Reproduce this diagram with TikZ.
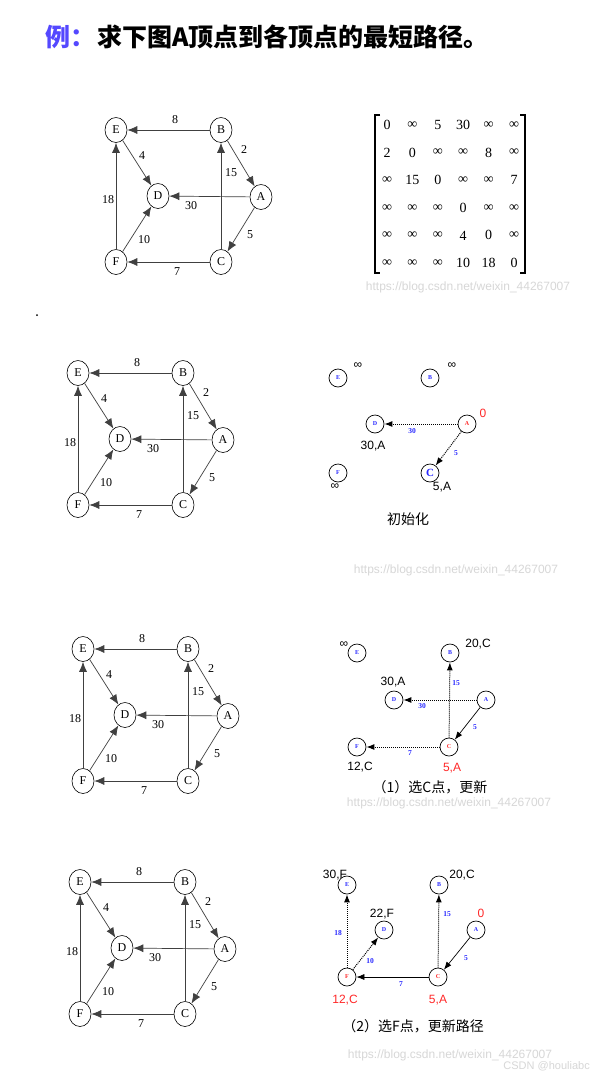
\documentclass[tikz,border=0pt]{standalone}
\usepackage{fontspec}
\setmainfont{Liberation Serif}
\newfontfamily\cjk{Noto Sans CJK SC}
\newfontfamily\lsans{Liberation Sans}
\usetikzlibrary{arrows.meta,shapes.geometric}
\definecolor{ttlblue}{RGB}{84,72,255}
\definecolor{tblue}{RGB}{40,40,255}
\definecolor{tred}{RGB}{255,40,40}
\definecolor{wm}{RGB}{215,215,215}
\tikzset{
  gnode/.style={ellipse,draw,line width=0.6pt,minimum width=22pt,minimum height=25pt,inner sep=0pt,font=\fontsize{12}{12}\selectfont},
  gedge/.style={draw=black!75,line width=0.7pt,-{Latex[length=10pt,width=8pt]}},
  glabel/.style={inner sep=0pt,font=\fontsize{12}{12}\selectfont},
  rnode/.style={circle,draw,line width=0.7pt,minimum size=18pt,inner sep=0pt,text=tblue,font=\bfseries\fontsize{6}{6}\selectfont},
  redge/.style={line width=0.7pt,-{Latex[length=8pt,width=6pt]}},
  rdot/.style={redge,dash pattern=on 1pt off 1pt,line width=1pt},
  rlab/.style={inner sep=0pt,text=tblue,font=\bfseries\fontsize{7.5}{7.5}\selectfont},
  dist/.style={inner sep=0pt,font=\lsans\fontsize{12}{12}\selectfont},
  capt/.style={inner sep=0pt,font=\cjk\fontsize{14}{14}\selectfont},
  wmark/.style={inner sep=0pt,text=wm,font=\lsans\fontsize{12}{12}\selectfont},
}
\newcommand\cubegraph[3]{%
\begin{scope}[shift={(#2,#3)}]
\node[gnode] (#1E) at (0,0) {E};
\node[gnode] (#1B) at (105,0) {B};
\node[gnode] (#1D) at (42,66) {D};
\node[gnode] (#1A) at (145,67) {A};
\node[gnode] (#1F) at (0,132) {F};
\node[gnode] (#1C) at (105,132) {C};
\draw[gedge] (#1B) -- (#1E);
\draw[gedge] (#1B) -- (#1A);
\draw[gedge] (#1C) -- (#1B);
\draw[gedge] (#1A) -- (#1D);
\draw[gedge] (#1A) -- (#1C);
\draw[gedge] (#1E) -- (#1D);
\draw[gedge] (#1F) -- (#1E);
\draw[gedge] (#1F) -- (#1D);
\draw[gedge] (#1C) -- (#1F);
\node[glabel] (#1w8) at (59,-10) {8};
\node[glabel] (#1w2) at (128,20) {2};
\node[glabel] (#1w15) at (115,43) {15};
\node[glabel] (#1w4) at (26,26) {4};
\node[glabel] (#1w18) at (-8,70) {18};
\node[glabel] (#1w30) at (75,76) {30};
\node[glabel] (#1w10) at (28,110) {10};
\node[glabel] (#1w5) at (134,105) {5};
\node[glabel] (#1w7) at (61,142) {7};
\end{scope}}
\begin{document}
\begin{tikzpicture}[x=1pt,y=-1pt]
\useasboundingbox (0,0) rectangle (600,1076);
\fill[white] (0,0) rectangle (600,1076);
% title
\node[anchor=west,inner sep=0pt,text=ttlblue,font=\cjk\bfseries\fontsize{25}{25}\selectfont] (t1) at (45,37) {例：};
\node[anchor=west,inner sep=0pt,font=\cjk\bfseries\fontsize{25}{25}\selectfont] (t2) at (97,37) {求下图A顶点到各顶点的最短路径。};
% graph 1 and matrix
\cubegraph{g1}{116}{130}
\draw[line width=1.1pt] (380,115) -- (375,115) -- (375,273) -- (380,273);
\draw[line width=1.1pt] (520,115) -- (525,115) -- (525,273) -- (520,273);
\foreach \row [count=\r] in {{0,∞,5,30,∞,∞},{2,0,∞,∞,8,∞},{∞,15,0,∞,∞,7},{∞,∞,∞,0,∞,∞},{∞,∞,∞,4,0,∞},{∞,∞,∞,10,18,0}}{
  \foreach \v [count=\c] in \row {
    \node[inner sep=0pt,font=\fontsize{14}{14}\selectfont] (m\r\c) at ({361.6+25.4*\c},{97.4+27.6*\r}) {\v};
  }
}
\node[wmark] (wm1) at (468,287) {https://blog.csdn.net/weixin\_44267007};
\fill (37,315) circle (1pt);
% graph 2 and init panel
\cubegraph{g2}{78}{373}
\node[rnode] (p2E) at (338,378) {E};
\node[rnode] (p2B) at (430,378) {B};
\node[rnode] (p2D) at (375,424) {D};
\node[rnode,text=tred] (p2A) at (467,424) {A};
\node[rnode] (p2F) at (338,473) {F};
\node[rnode,font=\bfseries\fontsize{11}{11}\selectfont] (p2C) at (430,473) {C};
\draw[rdot] (p2A) -- (p2D);
\draw[rdot] (p2A) -- (p2C);
\node[rlab] (p2l30) at (412,431) {30};
\node[rlab] (p2l5) at (456,453) {5};
\node[dist] (p2dE) at (358,366) {∞};
\node[dist] (p2dB) at (452,366) {∞};
\node[dist,text=tred] (p2dA) at (483,413) {0};
\node[dist] (p2dD) at (373,446) {30,A};
\node[dist] (p2dF) at (335,487) {∞};
\node[dist] (p2dC) at (442,487) {5,A};
\node[capt] (p2cap) at (408,519) {初始化};
\node[wmark] (wm2) at (456,570) {https://blog.csdn.net/weixin\_44267007};
% graph 3 and step 1
\cubegraph{g3}{83}{649}
\node[rnode] (p3E) at (357,653) {E};
\node[rnode] (p3B) at (450,653) {B};
\node[rnode] (p3D) at (394,700) {D};
\node[rnode] (p3A) at (486,700) {A};
\node[rnode] (p3F) at (357,747) {F};
\node[rnode,text=tred] (p3C) at (449,747) {C};
\draw[rdot] (p3C) -- (p3B);
\draw[rdot] (p3A) -- (p3D);
\draw[redge] (p3A) -- (p3C);
\draw[rdot] (p3C) -- (p3F);
\node[rlab] (p3l15) at (456,683) {15};
\node[rlab] (p3l30) at (422,706) {30};
\node[rlab] (p3l5) at (475,727) {5};
\node[rlab] (p3l7) at (410,753) {7};
\node[dist] (p3dE) at (344,645) {∞};
\node[dist] (p3dB) at (478,644) {20,C};
\node[dist] (p3dD) at (393,682) {30,A};
\node[dist] (p3dF) at (360,767) {12,C};
\node[dist,text=tred] (p3dC) at (452,768) {5,A};
\node[capt] (p3cap) at (430,787) {（1）选C点，更新};
\node[wmark] (wm3) at (449,803) {https://blog.csdn.net/weixin\_44267007};
% graph 4 and step 2
\cubegraph{g4}{80}{882}
\node[rnode] (p4E) at (347,885) {E};
\node[rnode] (p4B) at (439,885) {B};
\node[rnode] (p4D) at (384,930) {D};
\node[rnode] (p4A) at (476,930) {A};
\node[rnode,text=tred] (p4F) at (347,977) {F};
\node[rnode,text=tred] (p4C) at (438,977) {C};
\draw[rdot] (p4F) -- (p4E);
\draw[rdot] (p4F) -- (p4D);
\draw[rdot] (p4C) -- (p4B);
\draw[redge] (p4A) -- (p4C);
\draw[redge] (p4C) -- (p4F);
\node[rlab] (p4l18) at (338,933) {18};
\node[rlab] (p4l10) at (370,961) {10};
\node[rlab] (p4l15) at (447,914) {15};
\node[rlab] (p4l5) at (466,958) {5};
\node[rlab] (p4l7) at (401,984) {7};
\node[dist] (p4dE) at (335,875) {30,F};
\node[dist] (p4dB) at (462,875) {20,C};
\node[dist] (p4dD) at (382,914) {22,F};
\node[dist,text=tred] (p4dA) at (481,913) {0};
\node[dist,text=tred] (p4dF) at (345,1000) {12,C};
\node[dist,text=tred] (p4dC) at (438,1000) {5,A};
\node[capt] (p4cap) at (413,1026) {（2）选F点，更新路径};
\node[wmark] (wm4) at (450,1055) {https://blog.csdn.net/weixin\_44267007};
\node[wmark,anchor=east,font=\lsans\fontsize{11}{11}\selectfont] (wm5) at (590,1066) {CSDN @houliabc};
\end{tikzpicture}
\end{document}
